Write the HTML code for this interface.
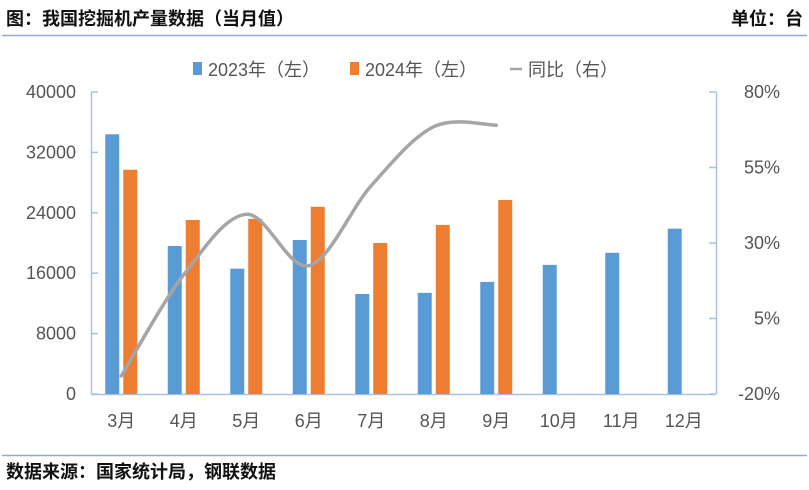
<!DOCTYPE html>
<html><head><meta charset="utf-8">
<style>
body{margin:0;background:#fff;width:809px;height:485px;overflow:hidden;font-family:"Liberation Sans","Noto Sans CJK SC",sans-serif;}
svg text{font-family:"Liberation Sans","Noto Sans CJK SC",sans-serif;}
</style></head>
<body>
<svg id="chart" width="809" height="485" xmlns="http://www.w3.org/2000/svg">
<text x="6" y="25" font-size="18" font-weight="bold" fill="#111">图：我国挖掘机产量数据（当月值）</text>
<text x="803" y="25" font-size="18" font-weight="bold" fill="#111" text-anchor="end">单位：台</text>
<line x1="2" y1="35.5" x2="807" y2="35.5" stroke="#8eaad6" stroke-width="1.5"/>
<line x1="2" y1="455.5" x2="807" y2="455.5" stroke="#8eaad6" stroke-width="1.5"/>
<text x="6" y="478" font-size="18" font-weight="bold" fill="#111">数据来源：国家统计局，钢联数据</text>
<g id="legend">
<rect x="193" y="62" width="9" height="13" fill="#5b9bd5"/>
<text x="208" y="76" font-size="18" fill="#555">2023年（左）</text>
<rect x="350" y="62" width="9" height="13" fill="#ed7d31"/>
<text x="365" y="76" font-size="18" fill="#555">2024年（左）</text>
<line x1="510" y1="69" x2="522" y2="69" stroke="#a5a5a5" stroke-width="2.5"/>
<text x="528" y="76" font-size="18" fill="#555">同比（右）</text>
</g>
<g id="plot"></g>
</svg>
<script>
const categories=["3月","4月","5月","6月","7月","8月","9月","10月","11月","12月"];
const series2023=[34400,19600,16600,20400,13250,13400,14850,17100,18700,21900];
const series2024=[29700,23050,23200,24800,20000,22400,25700,null,null,null];
const yoy=[-14,19.5,39.5,22.5,49,68.5,69];
const leftTicks=[0,8000,16000,24000,32000,40000];
const rightTicks=["-20%","5%","30%","55%","80%"];
const rightTickVals=[-20,5,30,55,80];

const NS="http://www.w3.org/2000/svg";
const g=document.getElementById('plot');
const X0=91,X1=716,Y0=394,Y1=92;
const step=(X1-X0)/categories.length;
const cx=i=>X0+step*(i+0.5)-1;
const yL=v=>Y0-(v/40000)*(Y0-Y1);
const yR=v=>Y0-((v+20)/100)*(Y0-Y1);
function mk(tag,attrs){const e=document.createElementNS(NS,tag);for(const k in attrs)e.setAttribute(k,attrs[k]);g.appendChild(e);return e;}

let e;
e=mk('line',{x1:X0+0.5,y1:Y1,x2:X0+0.5,y2:Y0,stroke:'#a9c0e3','stroke-width':1.5});


e=mk('line',{x1:X1+0.5,y1:Y1,x2:X1+0.5,y2:Y0,stroke:'#a9c0e3','stroke-width':1.5});


e=mk('line',{x1:X0,y1:Y0+0.5,x2:X1,y2:Y0+0.5,stroke:'#a9c0e3','stroke-width':1.5});



leftTicks.forEach(v=>{
  const t=mk('line',{x1:X0,y1:yL(v),x2:X0+7,y2:yL(v),stroke:'#a9c0e3','stroke-width':1.5});
  
  
  const l=mk('text',{x:76,y:yL(v)+6,'font-size':18,fill:'#555','text-anchor':'end'});
  l.textContent=v;
  
  
});
rightTickVals.forEach((v,i)=>{
  const t=mk('line',{x1:X1-7,y1:yR(v),x2:X1,y2:yR(v),stroke:'#a9c0e3','stroke-width':1.5});
  
  
  const l=mk('text',{x:780,y:yR(v)+6,'font-size':18,fill:'#555','text-anchor':'end'});
  l.textContent=rightTicks[i];
  
  
});
categories.forEach((c,i)=>{
  const l=mk('text',{x:cx(i),y:427,'font-size':18,fill:'#555','text-anchor':'middle'});
  l.textContent=c;
  
  
  const v1=series2023[i];
  if(v1!=null){
    const b=mk('rect',{x:cx(i)-16,y:yL(v1),width:14,height:Y0-yL(v1),fill:'#5b9bd5'});
    
    
  }
  const v2=series2024[i];
  if(v2!=null){
    const b=mk('rect',{x:cx(i)+2,y:yL(v2),width:14,height:Y0-yL(v2),fill:'#ed7d31'});
    
    
  }
});
// smooth line (Catmull-Rom to Bezier)
const pts=yoy.map((v,i)=>[cx(i),yR(v)]);
let d='M'+pts[0][0]+','+pts[0][1];
for(let i=0;i<pts.length-1;i++){
  const p0=pts[Math.max(0,i-1)],p1=pts[i],p2=pts[i+1],p3=pts[Math.min(pts.length-1,i+2)];
  const t=1/6;
  d+=' C'+(p1[0]+(p2[0]-p0[0])*t)+','+(p1[1]+(p2[1]-p0[1])*t)+' '+(p2[0]-(p3[0]-p1[0])*t)+','+(p2[1]-(p3[1]-p1[1])*t)+' '+p2[0]+','+p2[1];
}
e=mk('path',{d:d,fill:'none',stroke:'#a5a5a5','stroke-width':3.5,'stroke-linecap':'round'});


</script>
</body></html>
